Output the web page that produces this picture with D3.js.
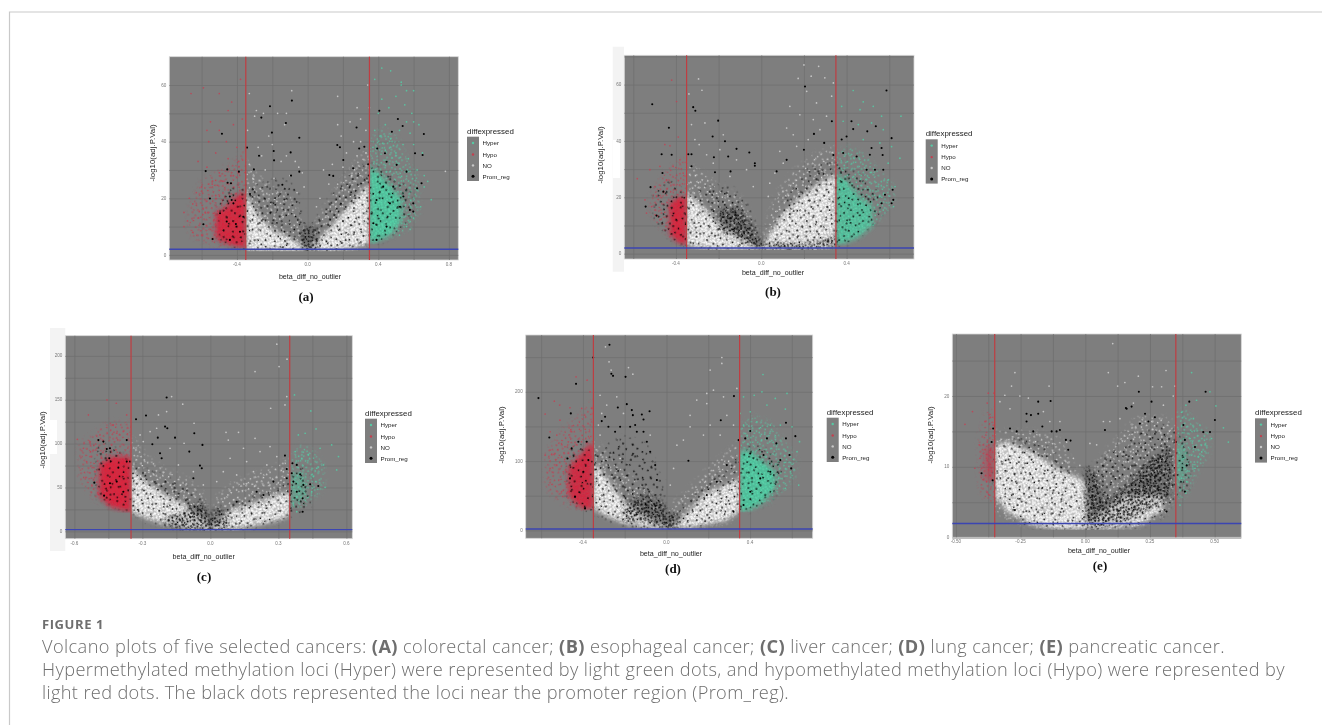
<!DOCTYPE html>
<html>
<head>
<meta charset="utf-8">
<script src="https://cdn.jsdelivr.net/npm/d3@7"></script>
<style>
html, body { margin: 0; padding: 0; background: #fff; }
svg { display: block; }
</style>
</head>
<body>
<svg id="chart" width="1322" height="725"></svg>
<script>
// where they merge into a cloud the reading is a band: [x, low, high]
var legendNames = ["Hyper", "Hypo", "NO", "Prom_reg"];

// (a) colorectal
var aXTicks = [-0.4, 0, 0.4, 0.8], aYTicks = [0, 20, 40, 60];
var aXLabels = ["-0.4", "0.0", "0.4", "0.8"];
var aNoSparse = [[-.35,2,34],[-.30,1.5,29],[-.2,1.5,24],[-.1,1.5,21],[-.03,1.5,11],[0,1.5,2],[.03,1.5,10],[.1,1.5,17],[.2,1.8,27],[.3,2.5,35],[.35,4,38]];
var aNoCore = [[-.35,1.5,22],[-.28,1.5,14],[-.2,1.5,9],[-.1,1.5,6],[-.02,1.5,3],[0,1.5,1.6],[.05,1.5,5],[.12,1.5,9],[.2,2,15],[.3,3,22],[.35,4,25]];
var aPromBand = [[-.5,5,20],[-.42,3,24],[-.35,2,24],[-.25,1.5,25],[-.15,1.5,27],[-.07,1.5,24],[-.02,1.5,12],[0,1.5,3],[.02,1.5,10],[.08,1.5,15],[.15,1.5,22],[.25,2,30],[.35,4,32],[.42,5,30],[.5,8,27],[.58,13,24]];
var aPromCore = [[-.035,1.5,8],[0,1.5,10],[.035,1.5,10],[.06,1.5,6]];
var aHypoBand = [[-.67,7,16],[-.6,5,26],[-.5,3,30],[-.42,2.5,32],[-.35,2,38]];
var aHypoCore = [[-.52,6,15],[-.46,4,17],[-.4,3,21],[-.35,2.5,22]];
var aHyperBand = [[.35,4,40],[.42,5,45],[.5,7,42],[.57,9,33],[.63,15,27]];
var aHyperCore = [[.35,4,31],[.4,5,29],[.47,7,24],[.53,12,20]];
var aHyper = [[.42,66],[.47,65],[.53,60],[.53,61],[.56,58],[.60,58],[.38,62],[.42,55],[.50,56],[.55,53],[.59,50],[.46,52],[.40,50],[.56,47],[.60,47],[.44,46],[.38,44],[.52,44],[.58,43],[.63,46],[.47,41],[.41,42],[.54,39],[.60,39],[.65,36],[.37,38],[.44,37],[.50,36],[.57,34],[.62,30],[.66,28],[.66,24],[.70,19.5],[.62,23],[.68,26],[.60,13],[.58,9],[.52,7],[.56,10],[.64,17]];
var aHypo = [[-.66,57],[-.59,59],[-.50,57],[-.38,62],[-.43,54],[-.45,51],[-.55,47],[-.57,44],[-.50,44],[-.42,46],[-.37,48],[-.62,33],[-.56,40],[-.46,40],[-.40,38],[-.52,36],[-.45,34],[-.57,31],[-.50,29],[-.39,33],[-.67,20],[-.63,22],[-.70,15],[-.70,10],[-.65,18],[-.60,24],[-.54,25],[-.48,26],[-.42,28],[-.62,13],[-.68,12],[-.57,19],[-.52,21],[-.65,8],[-.60,7],[-.55,9],[-.58,15]];
var aNo = [[-.33,57],[-.29,51],[-.25,50],[-.17,50],[-.09,58],[-.12,50],[-.13,46],[-.34,44],[-.30,49],[-.22,42],[-.20,39],[-.28,38],[-.12,35],[-.07,33],[-.05,31],[-.03,29],[-.26,35],[-.33,32],[-.15,33],[-.10,28],[-.24,30],[-.19,27],[-.31,27],[-.02,24],[-.06,22],[.17,56],[.28,52],[.30,48],[.17,46],[.19,42],[.24,47],[.34,60],[.35,52],[.33,44],[.26,40],[.22,36],[.30,40],[.14,32],[.09,30],[.33,36],[.20,31],[.28,35],[.12,25],[.07,20],[.05,17],[.17,25],[.25,28],[.35,30],[.78,29.5]];
var aProm = [[-.089,54.5],[-.213,52.5],[-.262,48.5],[-.123,46.6],[-.202,43.2],[-.047,41.4],[-.192,36.7],[-.096,36.2],[-.343,37.9],[-.275,35],[-.19,33.4],[-.304,30.2],[-.094,28],[-.143,24.8],[-.047,29.4],[-.326,21.5],[-.577,29.6],[-.485,42.8],[-.455,30.2],[-.389,29.4],[-.453,25.5],[-.434,25.3],[-.553,19.9],[-.44,20.6],[-.43,19.4],[-.42,18.2],[-.496,14.7],[-.59,10.8],[-.538,5.6],[-.364,13.5],[-.406,10.9],[-.458,11.8],[-.383,8.2],[-.44,5.3],[.277,45],[.406,50.9],[.511,48],[.538,45.5],[.477,43.5],[.658,42.7],[.168,38.8],[.183,38],[.292,37.6],[.321,38.2],[.343,32],[.202,33.5],[.258,30.6],[.123,28.2],[.145,27.9],[.438,35.9],[.394,37.6],[.447,32.9],[.504,31.8],[.56,29.4],[.608,35.9],[.651,35.3],[.645,25.3],[.62,23.5],[.598,18.2],[.579,15.9],[.542,20.6],[.485,24.1],[.428,24.1],[.39,19.4],[.598,15.3],[.372,11.2],[.39,5.3],[.447,10],[.523,17],[.466,18.2]];

// (b) esophageal
var bXTicks = [-0.4, 0, 0.4], bYTicks = [0, 20, 40, 60];
var bXLabels = ["-0.4", "0.0", "0.4"];
var bNoSparse = [[-.35,3,32],[-.28,2,29],[-.2,1.5,24],[-.1,1.5,20],[-.03,1.5,10],[0,1.5,2],[.03,1.5,12],[.08,1.5,22],[.15,1.5,29],[.25,1.5,35],[.35,3,38]];
var bNoCore = [[-.35,3,22],[-.28,2,17],[-.2,1.5,11],[-.1,1.5,6],[-.03,1.5,3],[0,1.5,2],[.03,1.5,6],[.1,1.5,14],[.18,1.5,20],[.27,1.5,25],[.35,3,28]];
var bPromBand = [[-.5,12,22],[-.42,5,26],[-.35,3,20],[-.25,1.5,24],[-.15,1.5,24],[-.05,1.5,16],[0,1.5,3],[.05,1.5,8],[.12,1.5,20],[.22,1.5,30],[.35,3,33],[.42,4,30],[.5,9,25],[.57,15,20]];
var bPromCore = [[-.2,8,16],[-.1,5,16],[-.03,2,8],[0,1.5,4],[.1,1.5,4],[.25,1.5,4],[.35,3,7]];
var bHypoBand = [[-.52,14,20],[-.46,8,28],[-.4,5,32],[-.35,3,34]];
var bHypoCore = [[-.43,7,18],[-.39,4,20],[-.35,3,20]];
var bHyperBand = [[.35,3,36],[.42,5,38],[.5,8,34],[.57,13,28],[.62,18,24]];
var bHyperCore = [[.35,3,28],[.4,4,26],[.46,6,20],[.52,10,17]];
var bHyper = [[.431,57.9],[.478,53.9],[.655,48.8],[.525,52.3],[.377,52.3],[.384,47],[.463,51.1],[.564,48.8],[.65,33.9],[.478,40.5],[.455,45.8],[.517,46.4],[.572,44],[.611,38],[.595,32.1],[.556,39.3],[.627,23.8],[.572,15.5],[.525,10.2],[.494,14.4],[.556,20.3],[.595,26.2],[.62,16.7]];
var bHypo = [[-.42,61.6],[-.397,54],[-.452,38.7],[-.428,38.3],[-.389,41.4],[-.581,26.6],[-.522,29.8],[-.475,31],[-.413,31],[-.381,33.3],[-.498,23.8],[-.545,19.1],[-.538,14.4],[-.491,20.3],[-.444,26.2],[-.366,28.6],[-.514,16.7],[-.475,12],[-.498,13.8],[-.447,9.6],[-.428,6]];
var bNo = [[.2,67],[.269,66.5],[.234,63],[.173,62.2],[.298,62.4],[.213,57.6],[.134,52.3],[.338,60.6],[.33,55.9],[.259,53.5],[.181,49.3],[.119,44.6],[.244,47.6],[.306,48.8],[.15,42.2],[.087,36.3],[.275,44],[.22,40.5],[.166,38.1],[.04,25],[.064,28.6],[.103,32.1],[.033,20.3],[-.294,62],[-.278,58],[-.339,56.7],[-.264,46.4],[-.327,45.8],[-.291,38.7],[-.256,35.1],[-.194,36.9],[-.178,42.2],[-.116,33.3],[-.069,29.8],[-.225,32.1],[-.311,40.5],[-.147,27.4],[-.0375,23.8]];
var bProm = [[-.511,53],[-.433,44.7],[-.319,52],[-.309,50.7],[-.202,47.2],[-.228,41.6],[-.17,39.9],[-.116,37.2],[-.155,34.5],[-.222,34.2],[-.056,35.9],[-.03,32.1],[-.03,31.2],[-.342,35.3],[-.327,35.3],[-.144,29.2],[-.217,28.9],[-.327,31],[-.467,35.3],[-.42,35.1],[-.463,28.6],[-.519,23.6],[-.542,16.7],[-.491,13.5],[-.459,22],[.072,29.2],[.205,59.3],[.247,42.5],[.2,36.9],[.295,39.3],[.119,33.3],[.331,47],[.338,35],[.423,47],[.431,44.2],[.497,43.4],[.537,45.2],[.587,57.9],[.611,41],[.4,41.6],[.377,40.5],[.384,35.7],[.447,34.5],[.509,35.1],[.569,35],[.564,37.5],[.517,37.5],[.494,29.8],[.533,29.8],[.572,29.8],[.616,22.7],[.58,20.9],[.619,19.1],[.564,17.9],[.611,17.9]];

// (c) liver
var cXTicks = [-0.6, -0.3, 0, 0.3, 0.6], cYTicks = [0, 50, 100, 150, 200];
var cXLabels = ["-0.6", "-0.3", "0.0", "0.3", "0.6"];
var cNoSparse = [[-.35,22,108],[-.28,14,85],[-.2,7,70],[-.1,2,60],[-.03,1,42],[0,1,5],[.03,1,40],[.1,2,55],[.2,6,65],[.3,12,75],[.35,18,85]];
var cNoCore = [[-.35,22,72],[-.28,15,55],[-.2,8,42],[-.1,3,28],[-.03,2,14],[0,1,3],[.03,2,12],[.1,3,25],[.2,7,33],[.3,13,42],[.35,18,45]];
var cPromBand = [[-.5,40,100],[-.42,28,95],[-.35,22,75],[-.28,12,70],[-.2,6,62],[-.1,2,50],[-.02,1,30],[0,1,3],[.02,1,25],[.1,2,33],[.2,5,40],[.3,12,48],[.35,18,60],[.4,22,75],[.44,30,55]];
var cPromCore = [[-.2,6,16],[-.12,2,22],[-.04,1,35],[0,1,15],[.03,1,28],[.08,2,15]];
var cHypoBand = [[-.58,60,100],[-.52,38,110],[-.45,28,125],[-.35,22,125]];
var cHypoCore = [[-.49,40,75],[-.44,28,85],[-.38,24,85],[-.35,22,85]];
var cHyperBand = [[.35,25,80],[.4,27,100],[.46,38,90],[.5,50,75]];
var cHyperCore = [[.355,32,65],[.39,34,68],[.42,40,60]];
var cHyper = [[.371,155.5],[.443,137.3],[.466,116.7],[.418,111.8],[.388,109.9],[.565,85.2],[.535,98.5],[.484,94.7],[.499,75.7],[.557,70],[.469,71.9],[.506,50.2],[.454,62.4],[.432,87.1],[.403,83.3],[.447,45.2],[.374,90.9],[.366,30],[.381,22.4]];
var cHypo = [[-.456,149.8],[-.415,146],[-.538,132.7],[-.587,104.9],[-.531,102.3],[-.487,109.9],[-.428,121.3],[-.369,132.7],[-.384,113.7],[-.546,79.5],[-.531,85.2],[-.56,94.7],[-.479,83.3],[-.509,68],[-.487,56.7],[-.465,45.2],[-.413,111.8],[-.501,94.7]];
var cNo = [[.293,213.3],[.338,196.2],[.303,187.8],[.197,182.1],[.337,153.6],[.329,144.1],[-.171,153.6],[-.122,144.9],[-.193,136.5],[-.229,132.7],[.266,140.3],[-.072,123.2],[-.116,100.4],[.069,112.9],[.124,112.9],[.197,106],[.263,96.6],[.079,104],[.146,94.7],[.219,90.9],[.293,85.2],[.087,83.3],[.16,79.5],[.249,75.7],[.028,56.7],[.057,68],[.116,64.3],[.19,68],[.322,68],[-.296,102.3],[-.266,113.7],[-.178,94.7],[-.141,75.7],[-.237,117.5],[-.31,109.9],[-.075,68],[-.031,52.9]];
var cProm = [[-.193,152.5],[-.328,127.8],[-.284,132],[-.2,119.4],[-.19,117.5],[-.232,106.8],[-.156,106.8],[-.071,111.8],[-.035,98.5],[-.256,99.2],[-.222,89],[-.215,83.3],[-.093,90.9],[-.046,74.9],[-.038,71.9],[-.075,60.5],[-.494,104],[-.472,102.3],[-.457,93.9],[-.443,94.7],[-.369,104],[-.512,55.5],[-.469,40.7],[-.446,83.3],[-.406,72.6],[-.369,79.5],[-.354,79.5],[-.413,56.7],[-.443,54.8],[-.384,45.2],[.329,86.3],[.362,77.6],[.381,75.7],[.396,65],[.337,71.1],[.359,66.2],[.41,52.9],[.407,37.6],[.407,22.4],[.476,51.7],[.44,53.6],[.381,45.2],[.366,56.7],[.351,41.4],[.337,60.5],[.234,41.4],[.204,45.2],[.116,33.8],[.278,56.7]];

// (d) lung
var dXTicks = [-0.4, 0, 0.4], dYTicks = [0, 100, 200];
var dXLabels = ["-0.4", "0.0", "0.4"];
var dNoSparse = [[-.35,32,130],[-.28,20,110],[-.2,10,85],[-.1,5,60],[-.03,3,45],[0,2,5],[.03,2,40],[.1,3,55],[.2,6,90],[.3,12,115],[.35,27,130]];
var dNoCore = [[-.35,32,100],[-.28,20,72],[-.2,10,40],[-.1,4,20],[-.03,3,10],[0,2,3],[.04,3,8],[.1,4,25],[.18,8,52],[.28,14,65],[.35,27,75]];
var dPromBand = [[-.47,45,115],[-.4,30,125],[-.35,28,110],[-.28,15,125],[-.2,6,135],[-.1,3,125],[-.02,3,70],[0,2,5],[.03,3,25],[.1,4,40],[.2,6,70],[.3,20,90],[.35,27,110],[.42,30,125],[.5,45,110],[.55,65,100]];
var dPromCore = [[-.2,12,38],[-.1,12,52],[-.02,4,42],[0,2,25],[.03,2,28],[.06,3,12]];
var dHypoBand = [[-.58,60,110],[-.5,40,145],[-.42,28,165],[-.35,32,190]];
var dHypoCore = [[-.47,50,90],[-.41,32,110],[-.37,30,125],[-.35,32,125]];
var dHyperBand = [[.35,27,150],[.42,30,165],[.5,42,155],[.57,60,125],[.62,80,105]];
var dHyperCore = [[.35,27,115],[.4,30,115],[.46,40,100],[.52,60,85]];
var dHyper = [[.462,225],[.457,200],[.42,195],[.369,192.8],[.577,197.6],[.521,190.4],[.569,175],[.481,180.8],[.401,171.2],[.353,168.8],[.601,149.5],[.637,128],[.625,113.5],[.633,65.4],[.545,152],[.497,152],[.433,156.7],[.369,152],[.593,84.6],[.569,60.6],[.537,75]];
var dHypo = [[-.433,221.6],[-.38,216.8],[-.537,186.5],[-.511,180.8],[-.581,167.8],[-.51,159],[-.462,177],[-.406,176],[-.557,142.3],[-.525,137.5],[-.454,142.3],[-.557,115.9],[-.581,108.7],[-.486,120.7],[-.525,94.2],[-.557,89.4],[-.494,84.6],[-.534,111],[-.502,55.8],[-.474,65.4],[-.366,200],[-.358,176]];
var dNo = [[-.292,265],[-.275,243.3],[-.265,231.3],[-.182,235],[-.161,225.5],[-.318,195],[-.31,168.8],[-.238,192.8],[-.286,180.8],[-.206,168.8],[.265,249.5],[.265,240.9],[.209,231.3],[.225,202.4],[.193,197.6],[.145,188],[.193,183],[.273,192.8],[.337,204.8],[.113,166],[.209,152],[.113,149.5],[.05,123],[.081,130.3],[.289,166],[.257,137.5],[.321,152],[.177,137.5],[.034,89.4],[.018,65.4],[-.326,152],[-.222,103.8],[-.318,137.5],[-.078,137.5]];
var dProm = [[-.273,268],[-.351,249.5],[-.613,190.9],[-.433,211.5],[-.264,226],[-.256,223],[-.196,221.6],[-.19,182.2],[-.233,177.4],[-.458,168.8],[-.561,134],[-.166,173.6],[-.161,166.3],[-.118,167.3],[-.081,172],[-.11,160],[-.294,164],[-.31,157.7],[-.278,149.5],[-.222,149.5],[-.174,149.5],[-.15,152],[-.142,142.3],[-.11,142.3],[-.246,142.3],[-.094,127.9],[-.078,113.5],[-.054,94.2],[-.046,72.6],[-.382,127.9],[-.422,127.9],[-.454,118.3],[-.474,103.8],[-.462,75],[-.438,48.6],[-.39,31.7],[-.374,101.4],[-.398,84.6],[.105,100.5],[.26,159],[.323,193.8],[.617,136],[.572,155.3],[.572,132.7],[.589,108.7],[.597,89.4],[.401,143.3],[.377,132.7],[.481,132.7],[.526,125.5],[.545,101.4],[.345,130.3],[.401,111],[.465,108.7],[.497,84.6],[.449,75],[.401,55.8],[.369,36.5],[.321,26.9],[.241,70.2],[.289,94.2],[.193,51]];

// (e) pancreatic
var eXTicks = [-0.5, -0.25, 0, 0.25, 0.5], eYTicks = [0, 10, 20];
var eXLabels = ["-0.50", "-0.25", "0.00", "0.25", "0.50"];
var eNoSparse = [[-.35,4,15],[-.3,2.5,15],[-.2,1.5,15],[-.1,1.2,14],[-.03,1.2,9],[0,1.2,3],[.03,1.2,10],[.1,1.2,13],[.2,1.3,17],[.3,3,17],[.35,6,16]];
var eNoCore = [[-.35,6,13],[-.3,3.5,13.5],[-.2,1.8,12],[-.1,1.2,9.5],[-.03,1.2,8.5],[0,1.2,8],[.01,1.2,2],[.08,1.2,4],[.15,1.5,6],[.22,2,6],[.3,4,6]];
var ePromBand = [[-.35,6,13],[-.25,2,14],[-.15,1.2,13],[-.05,1.2,9],[-.01,1.2,4],[0,1.2,10],[.02,1.2,10],[.1,1.2,12],[.2,1.5,15],[.3,3,16],[.35,6,15],[.4,7,13]];
var ePromCore = [[0,1.2,10],[.04,1.2,9],[.08,1.5,5],[.15,2,7],[.25,4,11],[.33,6,13]];
var eHypoBand = [[-.41,7,14],[-.38,5,18],[-.35,5,18]];
var eHypoCore = [[-.39,8,12.5],[-.36,8,13],[-.35,8,13]];
var eHyperBand = [[.35,5,18],[.39,6,18],[.43,9,16],[.48,12,15]];
var eHyperCore = [[.35,7,13],[.37,8,13.5],[.39,9,12]];
var eHyper = [[.411,23.3],[.482,20.6],[.505,18.6],[.534,15.5],[.553,13.5],[.43,19.4],[.389,18.7],[.372,17.7],[.418,16.8],[.443,15.9],[.488,14],[.405,14],[.463,13.1],[.424,9.8],[.392,7.9],[.389,6.3],[.366,4.6],[.372,8.4],[.379,11.2],[.437,11.4],[.45,12.1]];
var eHypo = [[-.436,17.8],[-.465,16],[-.375,20.4],[-.353,20.4],[-.379,19],[-.366,17],[-.388,16.4],[-.41,13.1],[-.379,13.5],[-.407,11.2],[-.401,9.8],[-.427,9.8],[-.381,7.9],[-.369,6],[-.362,9.8],[-.381,11.2],[-.394,11.9],[-.369,12.1],[-.375,10.2],[-.356,15.9]];
var eNo = [[.106,27.4],[-.272,23.3],[-.285,21.4],[-.14,21.4],[.089,23.3],[.205,22.8],[.125,21.4],[.153,21.9],[.312,23.6],[.347,21.4],[.26,21.3],[.295,21.3],[.34,20],[-.311,20.1],[-.253,20],[-.22,19.7],[-.33,19.2],[-.291,18.2],[-.162,17.8],[.07,16.4],[.095,16.4],[.018,13.3],[.044,13.1],[.186,19],[.302,18.7],[.134,16.8],[-.098,16.4],[-.137,16.4],[-.046,11.2],[-.021,10.2],[-.072,13.5]];
var eProm = [[.465,20.6],[.207,20.6],[.402,19.2],[.256,19.2],[-.134,19.3],[-.182,19.2],[-.227,17.5],[-.182,17.5],[-.21,17.3],[-.166,15.7],[-.13,15],[-.098,15.2],[-.111,15],[-.057,13.7],[-.075,13.8],[-.066,12.4],[-.356,15.4],[-.362,13.5],[-.401,9.1],[-.358,8.1],[-.272,3.9],[.16,18.2],[.179,18.5],[.157,18.3],[.076,15.2],[.231,17.5],[.269,17],[.244,16.4],[.211,16.1],[.501,16.6],[.456,14.9],[.482,14.9],[.379,15.9],[.385,13.8],[.351,13.5],[.424,12.8],[.392,10.2],[.385,6.5],[.314,3.7],[-.201,15],[-.227,16.4],[-.265,15],[-.291,15.4]];

var panels = [
  {id:"a", tag:"(a)", xDom:[-.783,.853], yDom:[-1.8,70], box:[169.3,56.7,458.3,260], xTicks:aXTicks, xLabels:aXLabels, yTicks:aYTicks, hoOp:.9, heOp:.9,
   noS:aNoSparse, noC:aNoCore, prB:aPromBand, prC:aPromCore, hoB:aHypoBand, hoC:aHypoCore, heB:aHyperBand, heC:aHyperCore, he:aHyper, ho:aHypo, no:aNo, pr:aProm,
   legend:[467,130.7], yLab:[152,153], xLab:[310,276.7], tagPos:[306,301]},
  {id:"b", tag:"(b)", xDom:[-.642,.716], yDom:[-1.9,70.4], box:[624.3,55.3,914,259], xTicks:bXTicks, xLabels:bXLabels, yTicks:bYTicks, hoOp:.9, heOp:.8,
   noS:bNoSparse, noC:bNoCore, prB:bPromBand, prC:bPromCore, hoB:bHypoBand, hoC:bHypoCore, heB:bHyperBand, heC:bHyperCore, he:bHyper, ho:bHypo, no:bNo, pr:bProm,
   legend:[925.7,133.3], yLab:[600,155], xLab:[773,273], tagPos:[773,296]},
  {id:"c", tag:"(c)", xDom:[-.64,.626], yDom:[-8.4,223], box:[65.3,335.7,352.3,538.7], xTicks:cXTicks, xLabels:cXLabels, yTicks:cYTicks, hoOp:.95, heOp:.4,
   noS:cNoSparse, noC:cNoCore, prB:cPromBand, prC:cPromCore, hoB:cHypoBand, hoC:cHypoCore, heB:cHyperBand, heC:cHyperCore, he:cHyper, ho:cHypo, no:cNo, pr:cProm,
   legend:[365,412.7], yLab:[42,440], xLab:[203.7,557], tagPos:[204,581]},
  {id:"d", tag:"(d)", xDom:[-.674,.70], yDom:[-11.5,282], box:[525.7,335,812.7,538.3], xTicks:dXTicks, xLabels:dXLabels, yTicks:dYTicks, hoOp:.85, heOp:.9,
   noS:dNoSparse, noC:dNoCore, prB:dPromBand, prC:dPromCore, hoB:dHypoBand, hoC:dHypoCore, heB:dHyperBand, heC:dHyperCore, he:dHyper, ho:dHypo, no:dNo, pr:dProm,
   legend:[826.7,411.7], yLab:[501.7,435], xLab:[671,553.7], tagPos:[673,573]},
  {id:"e", tag:"(e)", xDom:[-.514,.603], yDom:[0.05,28.75], box:[952.3,334,1241.3,537.3], xTicks:eXTicks, xLabels:eXLabels, yTicks:eYTicks, hoOp:.4, heOp:.4,
   noS:eNoSparse, noC:eNoCore, prB:ePromBand, prC:ePromCore, hoB:eHypoBand, hoC:eHypoCore, heB:eHyperBand, heC:eHyperCore, he:eHyper, ho:eHypo, no:eNo, pr:eProm,
   legend:[1255,412.3], yLab:[930,435], xLab:[1099,551], tagPos:[1100,570]}
];

var sideStrips = [
  {strip:[612.7,46.7,11.3,225], gap:[613,140,7,38]},
  {strip:[50,328,15.3,223], gap:[50,420,7,34]}
];

// speckle for the cloud fills, just a texture (0-1 in the tile)
var specks = [[.03,.11],[.27,.05],[.51,.14],[.78,.02],[.93,.21],[.14,.27],[.38,.31],[.63,.25],[.83,.36],[.06,.46],[.24,.41],[.47,.44],[.71,.49],[.96,.52],[.17,.6],[.35,.56],[.57,.63],[.87,.66],[.02,.72],[.28,.74],[.44,.79],[.66,.76],[.79,.83],[.11,.86],[.36,.93],[.54,.9],[.72,.97],[.92,.88],[.2,.17],[.7,.12],[.44,.6],[.9,.42],[.09,.63],[.61,.38],[.31,.2],[.49,.03]];

var svg = d3.select("#chart");
var defs = svg.append("defs");

defs.append("filter").attr("id", "soft")
  .attr("x", "-5%").attr("y", "-5%").attr("width", "110%").attr("height", "110%")
  .append("feGaussianBlur").attr("stdDeviation", 0.36);
defs.append("filter").attr("id", "softText")
  .attr("x", "-10%").attr("y", "-30%").attr("width", "120%").attr("height", "160%")
  .append("feGaussianBlur").attr("stdDeviation", 0.25);
defs.append("filter").attr("id", "edge")
  .attr("x", "-40%").attr("y", "-40%").attr("width", "180%").attr("height", "180%")
  .append("feGaussianBlur").attr("stdDeviation", 2.6);

function speckle(id, tile, r, color, rot) {
  var p = defs.append("pattern").attr("id", id)
    .attr("patternUnits", "userSpaceOnUse")
    .attr("patternTransform", "rotate(" + rot + ")")
    .attr("width", tile).attr("height", tile);
  p.selectAll("circle").data(specks).enter().append("circle")
    .attr("cx", function(d) { return d[0] * tile; })
    .attr("cy", function(d) { return d[1] * tile; })
    .attr("r", r).attr("fill", color);
}
speckle("noSparseA", 31, 0.8, "#e0e0e0", 17);
speckle("noSparseB", 43, 0.75, "#cccccc", -31);
speckle("noCoreA", 17, 0.95, "#ffffff", 21);
speckle("noCoreB", 23, 0.9, "#ffffff", -37);
speckle("prBandA", 43, 0.85, "#000", 13);
speckle("prBandB", 57, 0.8, "#080808", -29);
speckle("prCoreA", 21, 0.85, "#000", 33);
speckle("prCoreB", 29, 0.8, "#080808", -11);
speckle("hoBandA", 29, 0.8, "#c43a4c", 19);
speckle("hoBandB", 41, 0.8, "#b84657", -23);
speckle("hoCoreA", 17, 0.9, "#e41a35", 27);
speckle("heBandA", 27, 0.8, "#52c8a0", 15);
speckle("heBandB", 37, 0.8, "#5cc4a6", -41);
speckle("heCoreA", 17, 0.9, "#56e0b0", 23);

var sans = "'Liberation Sans', Arial, sans-serif";

sideStrips.forEach(function(s) {
  svg.append("rect").attr("x", s.strip[0]).attr("y", s.strip[1]).attr("width", s.strip[2]).attr("height", s.strip[3]).attr("fill", "#f3f3f3");
  svg.append("rect").attr("x", s.gap[0]).attr("y", s.gap[1]).attr("width", s.gap[2]).attr("height", s.gap[3]).attr("fill", "#fff");
});

// outer frame of the figure
svg.append("path").attr("d", "M1322,12H9.5V725").attr("fill", "none").attr("stroke", "#c9c9c9").attr("stroke-width", 1.2);

var bandCount = 0;

function drawPanel(p) {
  var x0 = p.box[0], y0 = p.box[1], x1 = p.box[2], y1 = p.box[3];
  var x = d3.scaleLinear().domain(p.xDom).range([x0, x1]);
  var y = d3.scaleLinear().domain(p.yDom).range([y1, y0]);
  var area = d3.area()
    .x(function(d) { return x(d[0]); })
    .y0(function(d) { return y(d[1]); })
    .y1(function(d) { return y(d[2]); });

  var g = svg.append("g").attr("class", "panel-" + p.id);
  g.append("rect").attr("x", x0).attr("y", y0).attr("width", x1 - x0).attr("height", y1 - y0)
    .attr("fill", "#7e7e7e").attr("stroke", "#d8d8d8").attr("stroke-width", 0.8);

  // minor grid sits halfway between the labelled ticks
  var xStep = p.xTicks[1] - p.xTicks[0], yStep = p.yTicks[1] - p.yTicks[0];
  var xMinor = d3.range(p.xTicks[0] - xStep * 1.5, p.xTicks[p.xTicks.length - 1] + xStep, xStep)
    .filter(function(v) { return v > p.xDom[0] && v < p.xDom[1]; });
  var yMinor = d3.range(p.yTicks[0] + yStep / 2, p.yDom[1], yStep);
  var xMajor = p.xTicks.concat([p.xTicks[0] - xStep, p.xTicks[p.xTicks.length - 1] + xStep])
    .filter(function(v) { return v > p.xDom[0] && v < p.xDom[1]; });

  var gridX = g.append("g").attr("transform", "translate(0," + y1 + ")");
  gridX.call(d3.axisBottom(x).tickValues(xMajor.concat(xMinor)).tickSize(-(y1 - y0)).tickFormat(""));
  var gridY = g.append("g").attr("transform", "translate(" + x0 + ",0)");
  gridY.call(d3.axisLeft(y).tickValues(p.yTicks.concat(yMinor)).tickSize(-(x1 - x0)).tickFormat(""));
  g.selectAll(".domain").remove();
  g.selectAll(".tick line").attr("stroke", "#6f6f6f").attr("stroke-width", 0.7);

  var marks = g.append("g").attr("filter", "url(#soft)");

  // cloud: fills run through a blurred mask so the edge fades, with a hard cut at the thresholds
  function band(data, fills, xLeft, xRight, op) {
    bandCount += 1;
    var maskId = "m" + bandCount, clipId = "c" + bandCount;
    var bottom = y(d3.min(data, function(d) { return d[1]; })) + 0.6;
    var left = xLeft == null ? x0 : x(xLeft), right = xRight == null ? x1 : x(xRight);
    defs.append("clipPath").attr("id", clipId).append("rect")
      .attr("x", left).attr("y", y0).attr("width", right - left).attr("height", bottom - y0);
    defs.append("mask").attr("id", maskId).attr("maskUnits", "userSpaceOnUse")
      .attr("x", x0).attr("y", y0).attr("width", x1 - x0).attr("height", y1 - y0)
      .append("path").attr("d", area(data)).attr("fill", "#fff").attr("filter", "url(#edge)");
    var clipped = marks.append("g").attr("clip-path", "url(#" + clipId + ")").attr("opacity", op == null ? 1 : op)
      .append("g").attr("mask", "url(#" + maskId + ")");
    fills.forEach(function(f) {
      clipped.append("rect").attr("x", x0).attr("y", y0).attr("width", x1 - x0).attr("height", y1 - y0).attr("fill", f);
    });
  }
  function dots(data, r, color, op) {
    marks.append("g").selectAll("circle").data(data).enter().append("circle")
      .attr("cx", function(d) { return x(d[0]); })
      .attr("cy", function(d) { return y(d[1]); })
      .attr("r", r).attr("fill", color).attr("opacity", op);
  }
  band(p.noS, ["url(#noSparseA)", "url(#noSparseB)"], -0.35, 0.35);
  band(p.noC, ["rgba(246,246,246,0.55)", "url(#noCoreA)", "url(#noCoreB)"], -0.35, 0.35);
  dots(p.no, 0.85, "#d2d2d2", 0.85);
  band(p.hoB, ["url(#hoBandA)", "url(#hoBandB)"], null, -0.35);
  band(p.hoC, ["rgba(218,30,58,0.92)", "url(#hoCoreA)"], null, -0.35, p.hoOp);
  dots(p.ho, 0.85, "#bd4656", 0.9);
  band(p.heB, ["url(#heBandA)", "url(#heBandB)"], 0.35, null);
  band(p.heC, ["rgba(72,200,158,0.92)", "url(#heCoreA)"], 0.35, null, p.heOp);
  dots(p.he, 0.85, "#55c9a3", 0.9);
  band(p.prB, ["url(#prBandA)", "url(#prBandB)"]);
  band(p.prC, ["rgba(0,0,0,0.12)", "url(#prCoreA)", "url(#prCoreB)"]);
  dots(p.pr, 1.05, "#000", 1);

  // thresholds: |beta diff| = 0.35 and -log10(adj.P) = 2
  g.selectAll(".vcut").data([-0.35, 0.35]).enter().append("line")
    .attr("x1", function(d) { return x(d); }).attr("x2", function(d) { return x(d); })
    .attr("y1", y0).attr("y2", y1).attr("stroke", "#bf3d42").attr("stroke-width", 1.2);
  g.append("line").attr("x1", x0).attr("x2", x1).attr("y1", y(2)).attr("y2", y(2))
    .attr("stroke", "#3b45b2").attr("stroke-width", 1.4);

  var labels = g.append("g").attr("filter", "url(#softText)");
  labels.selectAll(".xt").data(p.xTicks).enter().append("text")
    .attr("x", function(d) { return x(d); }).attr("y", y1 + 6)
    .attr("text-anchor", "middle").attr("font-family", sans).attr("font-size", 4.6).attr("fill", "#777")
    .text(function(d, i) { return p.xLabels[i]; });
  labels.selectAll(".yt").data(p.yTicks).enter().append("text")
    .attr("x", x0 - 3).attr("y", function(d) { return y(d) + 1.6; })
    .attr("text-anchor", "end").attr("font-family", sans).attr("font-size", 4.6).attr("fill", "#777")
    .text(function(d) { return d; });

  labels.append("text").attr("x", p.xLab[0]).attr("y", p.xLab[1] + 2.4)
    .attr("text-anchor", "middle").attr("font-family", sans).attr("font-size", 7.1).attr("fill", "#222")
    .text("beta_diff_no_outlier");
  labels.append("text").attr("transform", "translate(" + (p.yLab[0] + 2.6) + "," + p.yLab[1] + ") rotate(-90)")
    .attr("text-anchor", "middle").attr("font-family", sans).attr("font-size", 7.9).attr("fill", "#222")
    .text("-log10(adj.P.Val)");

  // legend
  var lx = p.legend[0], ly = p.legend[1];
  labels.append("text").attr("x", lx).attr("y", ly + 2.8)
    .attr("font-family", sans).attr("font-size", 7.9).attr("fill", "#222").text("diffexpressed");
  g.append("rect").attr("x", lx).attr("y", ly + 6).attr("width", 12).attr("height", 44.3).attr("fill", "#7e7e7e");
  var rowY = [12.3, 23.8, 34.7, 45.6];
  var keyColor = ["#55c9a3", "#c2404f", "#c8c8c8", "#000"];
  g.selectAll(".key").data(legendNames).enter().append("circle")
    .attr("cx", lx + 6).attr("cy", function(d, i) { return ly + rowY[i]; })
    .attr("r", function(d, i) { return i == 3 ? 1.5 : 1.2; })
    .attr("fill", function(d, i) { return keyColor[i]; })
    .attr("filter", "url(#soft)");
  labels.selectAll(".keytext").data(legendNames).enter().append("text")
    .attr("x", lx + 15.5).attr("y", function(d, i) { return ly + rowY[i] + 2.2; })
    .attr("font-family", sans).attr("font-size", 6.2).attr("fill", "#222")
    .text(function(d) { return d; });

  svg.append("text").attr("x", p.tagPos[0]).attr("y", p.tagPos[1])
    .attr("text-anchor", "middle").attr("font-family", "'Liberation Serif', serif")
    .attr("font-weight", "bold").attr("font-size", 13).attr("fill", "#111")
    .text(p.tag);
}

panels.forEach(drawPanel);

// caption, letter spacing fitted to the measured line widths
var capFont = "'Open Sans', Lato, sans-serif";
var figLabel = svg.append("text").attr("x", 42).attr("y", 628.5).attr("font-family", capFont)
  .attr("font-size", 13).attr("font-weight", 700).attr("fill", "#6e6e6e").text("FIGURE 1");
fitWidth(figLabel, 62);

var captionLines = [
  [["Volcano plots of five selected cancers: "],["(A)",1],[" colorectal cancer; "],["(B)",1],[" esophageal cancer; "],["(C)",1],[" liver cancer; "],["(D)",1],[" lung cancer; "],["(E)",1],[" pancreatic cancer."]],
  [["Hypermethylated methylation loci (Hyper) were represented by light green dots, and hypomethylated methylation loci (Hypo) were represented by"]],
  [["light red dots. The black dots represented the loci near the promoter region (Prom_reg)."]]
];
var captionY = [652.5, 675.7, 699];
var captionWidth = [1183, 1243, 747];
captionLines.forEach(function(parts, i) {
  var t = svg.append("text").attr("x", 42).attr("y", captionY[i])
    .attr("font-family", capFont).attr("font-size", 18.2).attr("font-weight", 300).attr("fill", "#6e6e6e");
  parts.forEach(function(s) {
    t.append("tspan").attr("font-weight", s[1] ? 700 : 300).text(s[0]);
  });
  fitWidth(t, captionWidth[i]);
});

function fitWidth(t, width) {
  var node = t.node();
  var chars = node.textContent.length;
  t.attr("letter-spacing", (width - node.getComputedTextLength()) / chars);
}
</script>
</body>
</html>
